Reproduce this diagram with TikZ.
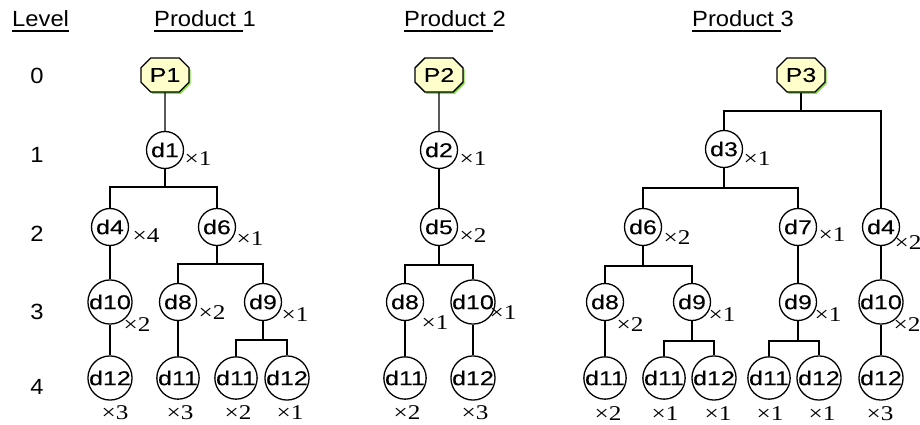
\documentclass[tikz,border=0pt]{standalone}
\usepackage{fontspec}
\usetikzlibrary{shapes.misc,shadows}
\newfontfamily\lab[FakeStretch=1.25,FakeBold=0.1]{Liberation Sans}
\newfontfamily\mul[FakeStretch=1.2]{Liberation Serif}
\newfontfamily\hdr[FakeStretch=1.08]{Liberation Sans}
\definecolor{prodfill}{HTML}{FFFFCC}
\definecolor{prodshade}{HTML}{7FE040}
% underline the first part of a heading only
\newcommand\ulpart[2]{\setbox0\hbox{#1}\rlap{\rule[-5pt]{\wd0}{1.8pt}}\box0\relax#2}
\tikzset{
  part/.style={circle,draw,line width=1.3pt,minimum size=37pt,inner sep=0pt,
    font=\lab\fontsize{20}{20}\selectfont},
  prod/.style={chamfered rectangle,chamfered rectangle xsep=9pt,draw,
    line width=1.3pt,fill=prodfill,minimum width=48pt,minimum height=34pt,
    inner sep=0pt,font=\lab\fontsize{20}{20}\selectfont,
    general shadow={fill=prodshade,shadow xshift=1.6pt,shadow yshift=-1.8pt}},
  qty/.style={inner sep=0pt,font=\mul\fontsize{21}{21}\selectfont},
  head/.style={inner sep=0pt,anchor=base west,font=\hdr\fontsize{22}{22}\selectfont},
  lvl/.style={inner sep=0pt,font=\hdr\fontsize{22}{22}\selectfont},
  link/.style={line width=1.3pt}
}
\begin{document}
\begin{tikzpicture}[x=1pt,y=-1pt]
\useasboundingbox (0,0) rectangle (920,425);

% headings
\node[head] (hLevel) at (12,27) {\ulpart{Level}{}};
\node[head] (hP1) at (154,27) {\ulpart{Product\ }{1}};
\node[head] (hP2) at (404,27) {\ulpart{Product\ }{2}};
\node[head] (hP3) at (692,27) {\ulpart{Product\ }{3}};

% level numbers
\node[lvl] (l0) at (37,76) {0};
\node[lvl] (l1) at (37,155) {1};
\node[lvl] (l2) at (37,234) {2};
\node[lvl] (l3) at (37,312) {3};
\node[lvl] (l4) at (37,387) {4};

% ---------------- Product 1 ----------------
\node[prod] (a0) at (165,75) {P1};
\node[part] (a1) at (165,150) {d1};
\node[part] (a4) at (110,227) {d4};
\node[part] (a6) at (217,227) {d6};
\node[part] (a10) at (110,302) {d10};
\node[part] (a8) at (178,302) {d8};
\node[part] (a9) at (263,302) {d9};
\node[part] (a12) at (110,378) {d12};
\node[part] (a11) at (178,378) {d11};
\node[part] (a11b) at (236,378) {d11};
\node[part] (a12b) at (287,378) {d12};
\coordinate (ab1) at (0,187);
\coordinate (ab2) at (0,264);
\coordinate (ab3) at (0,340);
\draw[link] (a0) -- (a1);
\draw[link] (a1) -- (a1 |- ab1);
\draw[link] (a4) |- (a1 |- ab1) -| (a6);
\draw[link] (a4) -- (a10);
\draw[link] (a6) -- (a6 |- ab2);
\draw[link] (a8) |- (a6 |- ab2) -| (a9);
\draw[link] (a10) -- (a12);
\draw[link] (a8) -- (a11);
\draw[link] (a9) -- (a9 |- ab3);
\draw[link] (a11b) |- (a9 |- ab3) -| (a12b);
\node[qty] (qa1) at (198,159) {×1};
\node[qty] (qa4) at (146,236) {×4};
\node[qty] (qa6) at (250,239) {×1};
\node[qty] (qa10) at (137,325) {×2};
\node[qty] (qa8) at (212,313) {×2};
\node[qty] (qa9) at (295,315) {×1};
\node[qty] (qa12) at (115,413) {×3};
\node[qty] (qa11) at (180,413) {×3};
\node[qty] (qa11b) at (238,413) {×2};
\node[qty] (qa12b) at (290,413) {×1};

% ---------------- Product 2 ----------------
\node[prod] (b0) at (439,75) {P2};
\node[part] (b2) at (439,150) {d2};
\node[part] (b5) at (439,227) {d5};
\node[part] (b8) at (405,302) {d8};
\node[part] (b10) at (473,302) {d10};
\node[part] (b11) at (405,378) {d11};
\node[part] (b12) at (473,378) {d12};
\coordinate (bb1) at (0,265);
\draw[link] (b0) -- (b2);
\draw[link] (b2) -- (b5);
\draw[link] (b5) -- (b5 |- bb1);
\draw[link] (b8) |- (b5 |- bb1) -| (b10);
\draw[link] (b8) -- (b11);
\draw[link] (b10) -- (b12);
\node[qty] (qb2) at (473,159) {×1};
\node[qty] (qb5) at (473,236) {×2};
\node[qty] (qb8) at (435,323) {×1};
\node[qty] (qb10) at (503,313) {×1};
\node[qty] (qb11) at (407,413) {×2};
\node[qty] (qb12) at (475,413) {×3};

% ---------------- Product 3 ----------------
\node[prod] (c0) at (801,75) {P3};
\node[part] (c3) at (724,149) {d3};
\node[part] (c6) at (643,227) {d6};
\node[part] (c7) at (798,227) {d7};
\node[part] (c4) at (881,227) {d4};
\node[part] (c8) at (605,302) {d8};
\node[part] (c9) at (692,302) {d9};
\node[part] (c9b) at (798,302) {d9};
\node[part] (c10) at (881,302) {d10};
\node[part] (c11) at (605,378) {d11};
\node[part] (c11b) at (664,378) {d11};
\node[part] (c12b) at (714,378) {d12};
\node[part] (c11c) at (769,378) {d11};
\node[part] (c12c) at (819,378) {d12};
\node[part] (c12) at (881,378) {d12};
\coordinate (cb0) at (0,111);
\coordinate (cb1) at (0,188);
\coordinate (cb2) at (0,266);
\coordinate (cb3) at (0,341);
\draw[link] (c0) -- (c0 |- cb0);
\draw[link] (c3) |- (c0 |- cb0) -| (c4);
\draw[link] (c3) -- (c3 |- cb1);
\draw[link] (c6) |- (c3 |- cb1) -| (c7);
\draw[link] (c6) -- (c6 |- cb2);
\draw[link] (c8) |- (c6 |- cb2) -| (c9);
\draw[link] (c7) -- (c9b);
\draw[link] (c4) -- (c10);
\draw[link] (c8) -- (c11);
\draw[link] (c9) -- (c9 |- cb3);
\draw[link] (c11b) |- (c9 |- cb3) -| (c12b);
\draw[link] (c9b) -- (c9b |- cb3);
\draw[link] (c11c) |- (c9b |- cb3) -| (c12c);
\draw[link] (c10) -- (c12);
\node[qty] (qc3) at (757,159) {×1};
\node[qty] (qc6) at (677,238) {×2};
\node[qty] (qc7) at (832,235) {×1};
\node[qty] (qc4) at (908,243) {×2};
\node[qty] (qc8) at (630,325) {×2};
\node[qty] (qc9) at (722,315) {×1};
\node[qty] (qc9b) at (828,315) {×1};
\node[qty] (qc10) at (907,325) {×2};
\node[qty] (qc11) at (608,414) {×2};
\node[qty] (qc11b) at (665,414) {×1};
\node[qty] (qc12b) at (718,414) {×1};
\node[qty] (qc11c) at (770,414) {×1};
\node[qty] (qc12c) at (822,414) {×1};
\node[qty] (qc12) at (880,414) {×3};
\end{tikzpicture}
\end{document}
